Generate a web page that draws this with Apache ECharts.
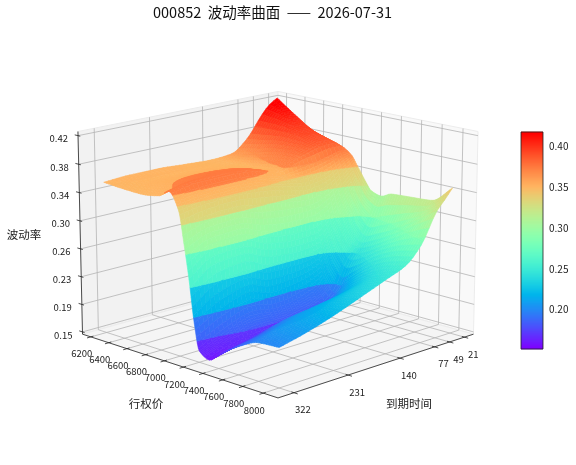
<!DOCTYPE html>
<html><head><meta charset="utf-8">
<style>html,body{margin:0;padding:0;background:#fff}#c{width:576px;height:465px}</style>
<script src="https://cdn.jsdelivr.net/npm/echarts@6/dist/echarts.min.js"></script>
</head><body><div id="c"></div>
<script>
const strikes=[6200,6400,6600,6800,6900,7000,7050,7100,7150,7200,7300,7400,7600,7800,8000];
const dtes=[322,280,231,190,140,105,77,49,35,21];
const iv322=[.352,.350,.349,.353,.362,.340,.300,.254,.198,.163,.155,.166,.185,.198,.200];
const iv280=[.354,.352,.356,.362,.368,.345,.312,.276,.218,.178,.165,.172,.192,.207,.208];
const iv231=[.354,.352,.358,.366,.368,.347,.314,.278,.228,.190,.170,.182,.203,.216,.220];
const iv190=[.352,.352,.357,.364,.366,.345,.305,.265,.218,.186,.172,.186,.208,.224,.232];
const iv140=[.350,.350,.352,.355,.356,.338,.300,.260,.222,.194,.178,.192,.216,.236,.247];
const iv105=[.352,.356,.362,.366,.366,.332,.300,.262,.232,.210,.195,.210,.235,.250,.258];
const iv77 =[.368,.372,.376,.376,.372,.335,.308,.280,.265,.250,.235,.240,.258,.272,.280];
const iv49 =[.398,.395,.388,.382,.376,.345,.325,.305,.290,.275,.262,.268,.282,.300,.320];
const iv35 =[.410,.400,.388,.380,.375,.352,.335,.318,.305,.295,.285,.290,.300,.310,.332];
const iv21 =[.417,.398,.381,.371,.368,.358,.347,.336,.325,.316,.312,.318,.320,.322,.345];
const ivRows=[iv322,iv280,iv231,iv190,iv140,iv105,iv77,iv49,iv35,iv21];
const strikeTicks=[6200,6400,6600,6800,7000,7200,7400,7600,7800,8000];
const dteTicks=[322,231,140,77,49,21];
const zTickValues=[.151,.1888,.2266,.2644,.3022,.34,.3778,.4156];
const zTickLabels=['0.15','0.19','0.23','0.26','0.30','0.34','0.38','0.42'];
const colorbarTicks=[.20,.25,.30,.35,.40];
const bandEdges=[.175,.205,.243,.285,.322,.345,.358,.385];
const bandMids=[.165,.190,.223,.263,.303,.335,.350,.378];

const sLo=6106,sHi=8142,dHi=348,dLo=3.6,zLo=.1479,zHi=.4211,cMin=.152,cMax=.417;
const U=s=>(s-sLo)/(sHi-sLo), V=d=>(dHi-d)/(dHi-dLo), W=z=>(z-zLo)/(zHi-zLo);
const E=15*Math.PI/180,A=1.19,C=.8927,D=10,R2=Math.SQRT1_2;
function view(u,v,w){
  const x=A*(u-.5),y=A*(v-.5),z=C*(w-.5);
  const r=(x+y)*R2;
  const n=(x-y)*R2*Math.cos(E)+z*Math.sin(E);
  const t=(y-x)*R2*Math.sin(E)+z*Math.cos(E);
  const f=D/(D-n);
  return [r*f,t*f];
}
function rainbow(t){
  t=Math.max(0,Math.min(1,t));
  const c=[Math.abs(2*t-.5),Math.sin(Math.PI*t),Math.cos(Math.PI*t/2)].map(a=>Math.round(255*Math.min(1,a)));
  return 'rgb('+c.join(',')+')';
}
const clamp01=a=>Math.max(0,Math.min(1,a));
// colour bands show on the steep face only; elsewhere the surface is a plain gradient
function tone(z,s,d){
  const i=bandEdges.findIndex(e=>z<e);
  let q=i<0?z+.008:bandMids[i]+(z-bandMids[i])*.3;
  const ks=clamp01((s-7230)/110);
  const kd=clamp01((60-d)/40)*clamp01((s-7050)/100);
  const kt=z>.345?clamp01((135-d)/30):0;
  const k=Math.max(ks,kd,kt);
  q=q+((z>.345?z+.008:z)-q)*k;
  return rainbow((q-cMin)/(cMax-cMin));
}
function curve(xs,ys,x){
  const n=xs.length;let k=0;
  while(k<n-2&&x>xs[k+1])k++;
  const sl=i=>(ys[i+1]-ys[i])/(xs[i+1]-xs[i]);
  const tan=i=>{
    if(i===0)return sl(0);if(i===n-1)return sl(n-2);
    const a=sl(i-1),b=sl(i);
    return a*b<=0?0:2*a*b/(a+b);
  };
  const h=xs[k+1]-xs[k],s=(x-xs[k])/h,m0=tan(k),m1=tan(k+1);
  return (2*s*s*s-3*s*s+1)*ys[k]+(s*s*s-2*s*s+s)*h*m0+(-2*s*s*s+3*s*s)*ys[k+1]+(s*s*s-s*s)*h*m1;
}
const meshS=[];for(let s=6200;s<=8000;s+=s>=6950&&s<7250?10:25)meshS.push(s);
const meshD=[];for(let d=322;d>=21;d-=7)meshD.push(d);
const dAsc=dtes.slice().reverse();
const mesh=meshD.map(d=>meshS.map(s=>{
  const col=ivRows.map(r=>curve(strikes,r,s)).reverse();
  return curve(dAsc,col,d);
}));
const cells=[];
for(let j=meshD.length-2;j>=0;j--)for(let i=0;i<meshS.length-1;i++)cells.push([i,j]);
function clip(poly,lim,keepAbove){
  const out=[];
  for(let i=0;i<poly.length;i++){
    const a=poly[i],b=poly[(i+1)%poly.length];
    const ia=keepAbove?a[2]>=lim:a[2]<=lim, ib=keepAbove?b[2]>=lim:b[2]<=lim;
    if(ia)out.push(a);
    if(ia!==ib){const t=(lim-a[2])/(b[2]-a[2]);out.push([a[0]+(b[0]-a[0])*t,a[1]+(b[1]-a[1])*t,lim]);}
  }
  return out;
}

const FONT='"Noto Sans CJK SC",sans-serif';
const ink='#222';
function P(api,u,v,w){return api.coord(view(u,v,w));}
function txt(p,t,size,align){
  return {type:'text',silent:true,style:{x:p[0],y:p[1],text:t,fill:ink,fontSize:size,fontFamily:FONT,align:align||'center',verticalAlign:'middle'}};
}
const panes=[[[0,0,0],[0,1,0],[0,1,1],[0,0,1]],[[0,1,0],[1,1,0],[1,1,1],[0,1,1]],[[0,0,0],[1,0,0],[1,1,0],[0,1,0]]];
const paneFill=['#f2f2f2','#f9f9f9','#f5f5f5'];
const gridDefs=[];
strikeTicks.forEach(s=>gridDefs.push([0,s]));
dteTicks.forEach(d=>gridDefs.push([1,d]));
zTickValues.forEach(z=>gridDefs.push([2,z]));
const axisItems=[];
strikeTicks.forEach(s=>axisItems.push([0,s,0]));
dteTicks.forEach(d=>axisItems.push([1,d,0]));
zTickValues.forEach((z,i)=>axisItems.push([2,z,i]));
axisItems.push([3,0,0]);

const option={
  animation:false,
  title:{text:'000852  波动率曲面  ——  2026-07-31',left:148,top:0,
    textStyle:{fontFamily:FONT,fontSize:14.5,fontWeight:'normal',color:'#111'}},
  grid:[{left:0,top:0,width:576,height:465,show:false},{left:521,top:132,width:22,height:217,show:true,borderColor:'#222',borderWidth:.8,z:5}],
  xAxis:[{type:'value',gridIndex:0,min:-278/235,max:298/235,show:false},{type:'value',gridIndex:1,min:0,max:1,show:false}],
  yAxis:[{type:'value',gridIndex:0,min:-231/235,max:234/235,show:false},
    {type:'value',gridIndex:1,min:cMin,max:cMax,position:'right',splitLine:{show:false},
     axisLine:{show:false},
     axisTick:{show:true,length:3,customValues:colorbarTicks,lineStyle:{color:'#222',width:.8}},
     axisLabel:{margin:6,customValues:colorbarTicks,formatter:v=>v.toFixed(2),fontFamily:FONT,fontSize:10,color:ink}}],
  series:[
   {type:'custom',xAxisIndex:0,yAxisIndex:0,silent:true,clip:false,data:panes.map((_,i)=>[i,0]),z:1,
    renderItem(p,api){const i=api.value(0);
      return {type:'polygon',shape:{points:panes[i].map(q=>P(api,q[0],q[1],q[2]))},style:{fill:paneFill[i],stroke:'#ececec',lineWidth:1}};}},
   {type:'custom',xAxisIndex:0,yAxisIndex:0,silent:true,clip:false,data:gridDefs,z:2,
    renderItem(p,api){const k=api.value(0),val=api.value(1);let pts;
      if(k===0){const u=U(val);pts=[[u,0,0],[u,1,0],[u,1,1]];}
      else if(k===1){const v=V(val);pts=[[1,v,0],[0,v,0],[0,v,1]];}
      else{const w=W(val);pts=[[0,0,w],[0,1,w],[1,1,w]];}
      return {type:'polyline',shape:{points:pts.map(q=>P(api,q[0],q[1],q[2]))},style:{fill:'none',stroke:'#b4b4b4',lineWidth:.8}};}},
   {type:'custom',xAxisIndex:0,yAxisIndex:0,silent:true,clip:false,data:axisItems,z:3,
    renderItem(p,api){const k=api.value(0),val=api.value(1);
      const line=(a,b,wd)=>({type:'line',shape:{x1:a[0],y1:a[1],x2:b[0],y2:b[1]},style:{stroke:'#222',lineWidth:wd}});
      if(k===3)return {type:'group',children:[
        line(P(api,0,0,0),P(api,1,0,0),.8),line(P(api,1,0,0),P(api,1,1,0),.8),line(P(api,0,0,0),P(api,0,0,1),.8)]};
      if(k===0){const u=U(val),a=P(api,u,0,0);
        return {type:'group',children:[line(P(api,u,.012,0),P(api,u,-.018,0),.8),txt([a[0]-9,a[1]+17],String(val),9.5)]};}
      if(k===1){const v=V(val),a=P(api,1,v,0);
        return {type:'group',children:[line(P(api,.988,v,0),P(api,1.018,v,0),.8),txt([a[0]+9,a[1]+17],String(val),9.5)]};}
      const w=W(val),a=P(api,0,0,w);
      return {type:'group',children:[line(P(api,.012,0,w),P(api,-.018,0,w),.8),txt([a[0]-10,a[1]+3],zTickLabels[api.value(2)],9.5,'right')]};}},
   {type:'custom',xAxisIndex:0,yAxisIndex:0,silent:true,clip:false,data:cells,z:4,progressive:0,
    renderItem(p,api){const i=api.value(0),j=api.value(1);
      const poly=[[i,j],[i+1,j],[i+1,j+1],[i,j+1]].map(c=>[U(meshS[c[0]]),V(meshD[c[1]]),mesh[c[1]][c[0]]]);
      const s=(meshS[i]+meshS[i+1])/2,d=(meshD[j]+meshD[j+1])/2;
      const children=[];
      const lims=[-1].concat(bandEdges,[9]);
      for(let b=0;b<lims.length-1;b++){
        let q=clip(poly,lims[b],true);
        if(q.length>2)q=clip(q,lims[b+1],false);
        if(q.length<3)continue;
        const avg=q.reduce((t,a)=>t+a[2],0)/q.length,col=tone(avg,s,d);
        children.push({type:'polygon',shape:{points:q.map(a=>P(api,a[0],a[1],W(a[2])))},style:{fill:col,stroke:col,lineWidth:.6}});
      }
      return {type:'group',children};}},
   {type:'custom',xAxisIndex:1,yAxisIndex:1,silent:true,data:Array.from({length:217},(_,i)=>[i]),z:4,
    renderItem(p,api){const i=api.value(0);
      const z0=cMin+(cMax-cMin)*i/217,z1=cMin+(cMax-cMin)*(i+1)/217;
      const a=api.coord([0,z0]),b=api.coord([1,z1]);
      return {type:'rect',shape:{x:a[0],y:b[1]-.3,width:b[0]-a[0],height:a[1]-b[1]+.6},style:{fill:rainbow(i/216)}};}}
  ],
  graphic:[
    {type:'text',x:146,y:404,style:{text:'行权价',fontFamily:FONT,fontSize:11.5,fill:ink,align:'center',verticalAlign:'middle'}},
    {type:'text',x:409,y:404,style:{text:'到期时间',fontFamily:FONT,fontSize:11.5,fill:ink,align:'center',verticalAlign:'middle'}},
    {type:'text',x:24,y:235,style:{text:'波动率',fontFamily:FONT,fontSize:11.5,fill:ink,align:'center',verticalAlign:'middle'}}
  ]
};
const chart=echarts.init(document.getElementById('c'),null,{renderer:'canvas'});
chart.setOption(option);
</script></body></html>
